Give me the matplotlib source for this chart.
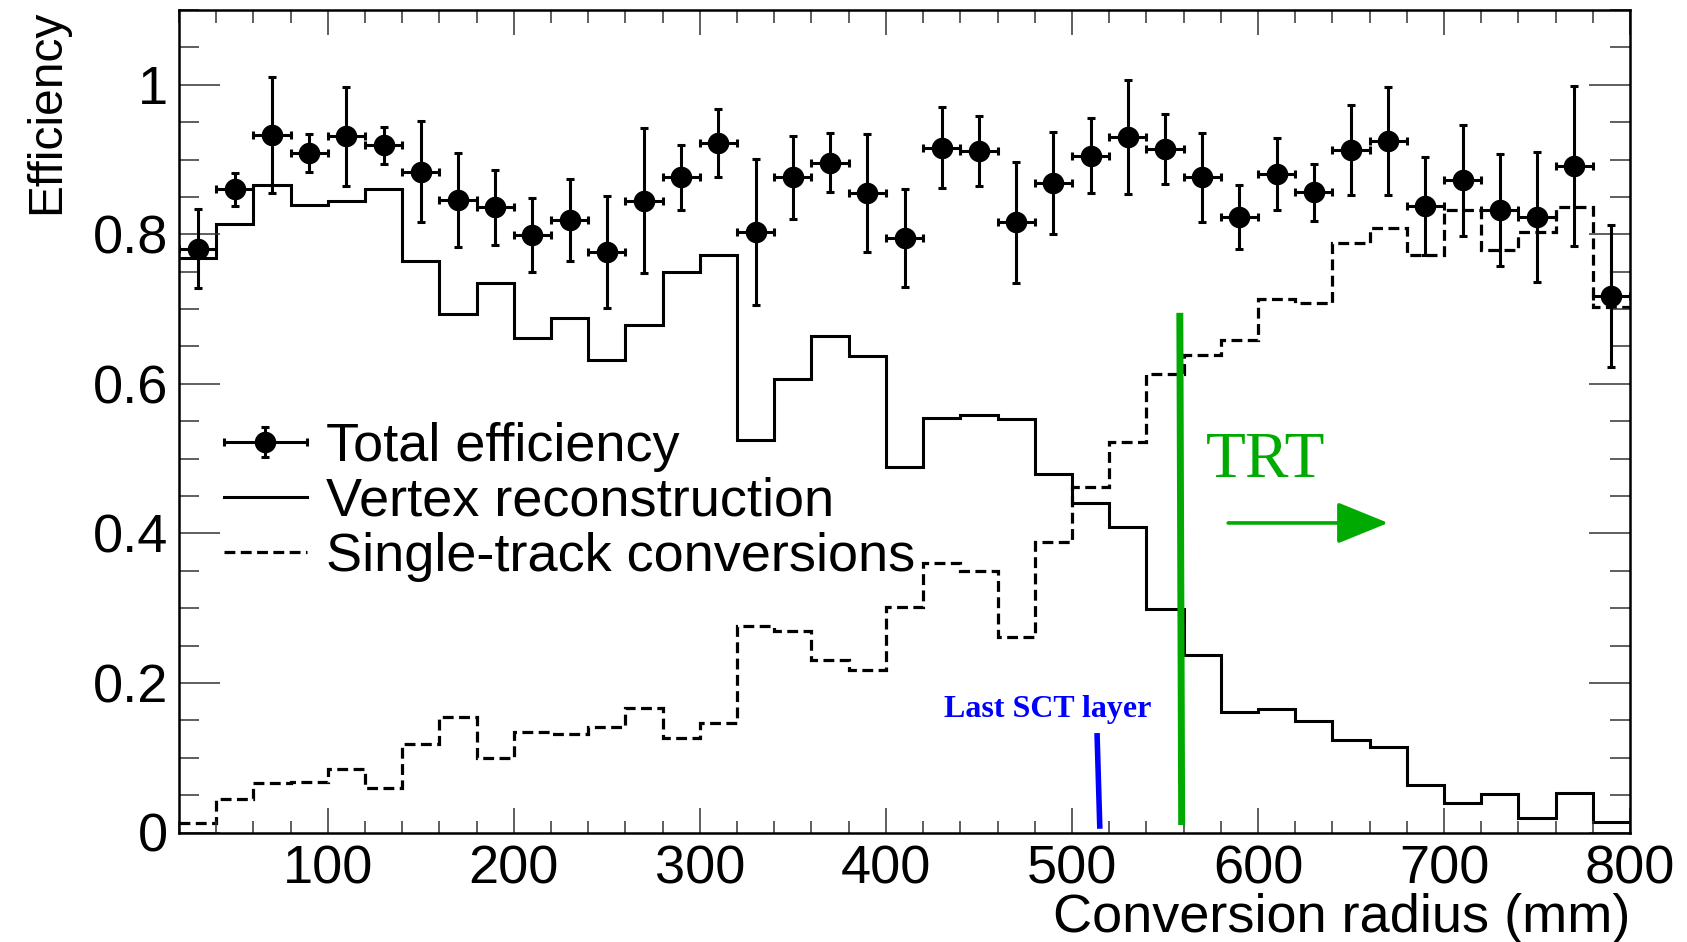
import numpy as np
import matplotlib
matplotlib.use("Agg")
import matplotlib.pyplot as plt
from matplotlib.container import ErrorbarContainer
from matplotlib.legend_handler import HandlerErrorbar
from matplotlib.ticker import MultipleLocator, FuncFormatter

# ---------------- data ----------------
bin_edges = np.arange(20, 801, 20)          # conversion radius bins (mm)
bin_centers = bin_edges[:-1] + 10

total_eff = [0.781, 0.860, 0.933, 0.909, 0.931, 0.919, 0.884, 0.846, 0.836, 0.799,
             0.819, 0.776, 0.845, 0.876, 0.922, 0.803, 0.876, 0.896, 0.855, 0.795,
             0.916, 0.911, 0.816, 0.869, 0.905, 0.930, 0.914, 0.876, 0.823, 0.881,
             0.856, 0.913, 0.925, 0.838, 0.872, 0.832, 0.823, 0.891, 0.717]
total_err = [0.053, 0.022, 0.078, 0.025, 0.066, 0.025, 0.068, 0.063, 0.050, 0.050,
             0.055, 0.075, 0.097, 0.044, 0.045, 0.098, 0.055, 0.040, 0.079, 0.066,
             0.054, 0.047, 0.081, 0.068, 0.050, 0.076, 0.047, 0.060, 0.043, 0.048,
             0.038, 0.060, 0.072, 0.065, 0.074, 0.075, 0.087, 0.107, 0.095]
vertex_eff = [0.768, 0.814, 0.866, 0.839, 0.844, 0.860, 0.764, 0.693, 0.735, 0.662,
              0.688, 0.632, 0.679, 0.749, 0.773, 0.525, 0.607, 0.664, 0.637, 0.489,
              0.555, 0.559, 0.553, 0.479, 0.441, 0.408, 0.299, 0.238, 0.161, 0.165,
              0.149, 0.124, 0.115, 0.063, 0.039, 0.051, 0.020, 0.053, 0.014]
single_eff = [0.0125, 0.045, 0.066, 0.068, 0.085, 0.059, 0.119, 0.154, 0.100, 0.135,
              0.132, 0.141, 0.167, 0.126, 0.147, 0.276, 0.270, 0.231, 0.217, 0.302,
              0.361, 0.350, 0.262, 0.388, 0.462, 0.522, 0.613, 0.638, 0.659, 0.714,
              0.708, 0.788, 0.809, 0.773, 0.832, 0.779, 0.803, 0.836, 0.703]

legend_labels = ["Total efficiency", "Vertex reconstruction", "Single-track conversions"]

# annotations (data coordinates)
trt_line_x = (558.0, 559.0)
trt_line_y = (0.695, 0.010)
sct_line_x = (513.5, 515.0)
sct_line_y = (0.133, 0.005)
arrow_x = (584.0, 670.0)
arrow_y = 0.414

# ---------------- styling ----------------
GREEN = "#00aa00"
BLUE = "#0000ff"
SANS = ["Liberation Sans", "DejaVu Sans"]
SERIF = ["Liberation Serif", "DejaVu Serif"]
FS = 39

plt.rcParams["font.family"] = SANS

fig = plt.figure(figsize=(16.87, 9.42), dpi=100)
ax = fig.add_axes([179 / 1687, 1 - 832.5 / 942, (1630 - 179) / 1687, (832.5 - 10) / 942])

h_vtx = ax.stairs(vertex_eff, bin_edges, baseline=None, color="black", lw=2.2)
h_single = ax.stairs(single_eff, bin_edges, baseline=None, color="black", lw=2.3,
                     linestyle=(0, (3.4, 1.7)))
h_tot = ax.errorbar(bin_centers, total_eff, xerr=10, yerr=total_err, fmt="o",
                    color="black", ms=14.5, elinewidth=2.2, capsize=3, capthick=2.2,
                    zorder=5)

# TRT / SCT annotations
ax.plot(trt_line_x, trt_line_y, color=GREEN, lw=5, solid_capstyle="butt", zorder=6)
ax.plot(sct_line_x, sct_line_y, color=BLUE, lw=4, solid_capstyle="butt", zorder=6)
ax.annotate("", xy=(arrow_x[1], arrow_y), xytext=(arrow_x[0], arrow_y),
            arrowprops=dict(arrowstyle="-|>,head_length=3.2,head_width=1.3",
                            color=GREEN, lw=2.6, mutation_scale=10,
                            shrinkA=0, shrinkB=0), zorder=6)
ax.text(572.0, 0.476, "TRT", family=SERIF, fontsize=47, color=GREEN,
        ha="left", va="baseline")
ax.text(486.8, 0.154, "Last SCT layer", family=SERIF, fontsize=23, weight="bold",
        color=BLUE, ha="center", va="baseline")

ax.set_xlim(20, 800)
ax.set_ylim(0, 1.1)
ax.xaxis.set_major_locator(MultipleLocator(100))
ax.xaxis.set_minor_locator(MultipleLocator(20))
ax.yaxis.set_major_locator(MultipleLocator(0.2))
ax.yaxis.set_minor_locator(MultipleLocator(0.05))
ax.yaxis.set_major_formatter(FuncFormatter(
    lambda v, p: "0" if abs(v) < 1e-9 else f"{v:.1f}".rstrip("0").rstrip(".")))

ax.tick_params(which="both", direction="in", top=True, right=True, color="#333333",
               width=1.1, labelsize=FS)
ax.tick_params(axis="x", which="major", length=18, pad=9)
ax.tick_params(axis="x", which="minor", length=9)
ax.tick_params(axis="y", which="major", length=29.5, pad=8)
ax.tick_params(axis="y", which="minor", length=14.7)
for s in ax.spines.values():
    s.set_linewidth(1.8)

ax.set_xlabel("Conversion radius (mm)", fontsize=FS, loc="right")
ax.xaxis.set_label_coords(1.0, -0.074)
ax.set_ylabel("Efficiency", fontsize=34.5, loc="top")
ax.yaxis.set_label_coords(-0.0758, 1.0)

leg = ax.legend([h_tot, h_vtx, h_single], legend_labels, loc="upper left",
                bbox_to_anchor=(0.031, 0.499), frameon=False, fontsize=FS,
                borderpad=0, borderaxespad=0, handlelength=1.53,
                handletextpad=0.36, labelspacing=0.09,
                handler_map={ErrorbarContainer: HandlerErrorbar(xerr_size=0.77, yerr_size=0.28)})

fig.savefig("out.png", dpi=100)
